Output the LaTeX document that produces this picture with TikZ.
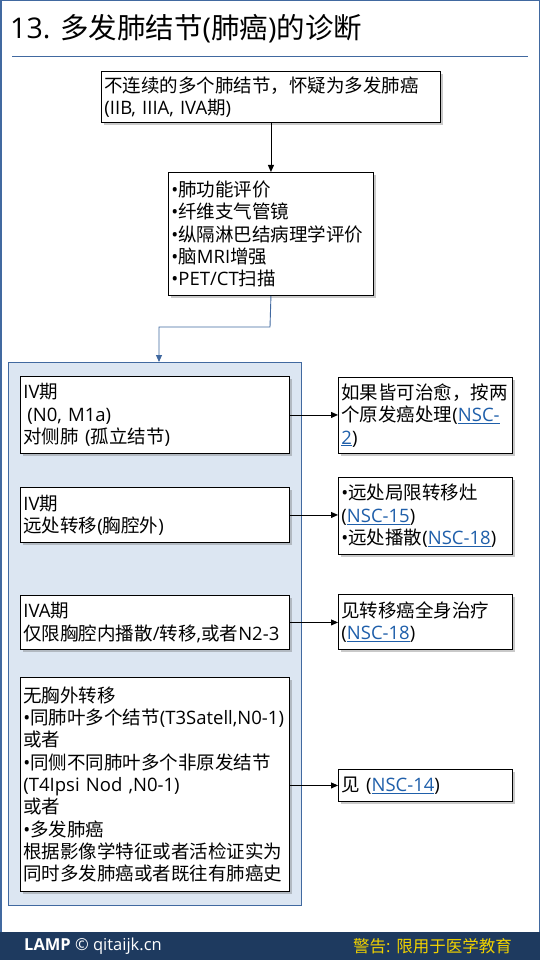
\documentclass[tikz,border=0pt]{standalone}
\usepackage{fontspec}
\setmainfont{Open Sans}
\newfontfamily\cjkf{Noto Sans CJK SC}
\newfontfamily\latf{Open Sans}
\makeatletter
\newXeTeXintercharclass\cjkcls
\count@="3000
\loop\ifnum\count@<"3040 \XeTeXcharclass\count@=\cjkcls \advance\count@ by 1 \repeat
\count@="4E00
\loop\ifnum\count@<"A000 \XeTeXcharclass\count@=\cjkcls \advance\count@ by 1 \repeat
\count@="FF00
\loop\ifnum\count@<"FFF0 \XeTeXcharclass\count@=\cjkcls \advance\count@ by 1 \repeat
\makeatother
\XeTeXinterchartokenstate=1
\XeTeXinterchartoks 0 \cjkcls = {\cjkf}
\XeTeXinterchartoks 4095 \cjkcls = {\cjkf}
\XeTeXinterchartoks \cjkcls 0 = {\latf}
\XeTeXinterchartoks \cjkcls 4095 = {\latf}
\exhyphenpenalty=10000\relax
\hyphenpenalty=10000\relax
\usetikzlibrary{arrows.meta,shadows}
\definecolor{steel}{RGB}{65,105,160}
\definecolor{panelfill}{RGB}{220,230,242}
\definecolor{barblue}{RGB}{30,58,95}
\definecolor{linkblue}{RGB}{31,95,170}
\definecolor{warnyellow}{RGB}{240,210,0}
\newcommand{\lnk}[1]{\textcolor{linkblue}{\underline{#1}}}
\begin{document}
\begin{tikzpicture}[x=1pt,y=-1pt,
  box/.style={draw=black,fill=white,line width=0.9pt,anchor=north west,align=left,
    inner xsep=3pt,inner ysep=0pt,font=\fontsize{18.5}{22.3}\selectfont,
    drop shadow={shadow xshift=2.5pt,shadow yshift=-2.5pt,opacity=0.35,fill=black!60}},
  arr/.style={-{Triangle[length=7pt,width=6pt]},line width=0.9pt,black},
  barr/.style={-{Triangle[length=7pt,width=6pt]},line width=0.9pt,steel}]
\useasboundingbox (0,0) rectangle (540,960);
\fill[white] (0,0) rectangle (540,960);
\draw[steel,line width=1.5pt] (0.75,0.75) rectangle (539.25,959.25);
% title
\node[anchor=west,inner sep=0pt,font=\fontsize{28.5}{33}\selectfont] (title) at (10,29) {13. 多发肺结节(肺癌)的诊断};
\draw[steel,line width=1pt] (12,57) -- (528,57);
% top boxes
\node[box,text width=333pt,minimum height=51pt] (b1) at (101,71) {不连续的多个肺结节，怀疑为多发肺癌\\(IIB, IIIA, IVA期)};
\node[box,text width=199pt,minimum height=123pt] (b2) at (168,172) {•肺功能评价\\•纤维支气管镜\\•纵隔淋巴结病理学评价\\•脑MRI增强\\•PET/CT扫描};
\draw[arr] (b1.south) -- (b2.north);
% panel
\node[draw=steel,fill=panelfill,line width=0.9pt,anchor=north west,minimum width=293pt,minimum height=543pt,inner sep=0pt] (panel) at (8,362) {};
\coordinate (turn1) at (270,327);
\coordinate (turn2) at (159,327);
\draw[barr] (b2.south) -- (turn1) -- (turn2) -- (panel.north -| turn2);
% left boxes
\node[box,text width=263pt,minimum height=77pt] (la) at (20,376) {IV期\\\hspace*{4pt}(N0, M1a)\\对侧肺 (孤立结节)};
\node[box,text width=263pt,minimum height=55pt] (lb) at (20,487) {IV期\\远处转移(胸腔外)};
\node[box,text width=263pt,minimum height=54pt] (lc) at (20,595) {IVA期\\仅限胸腔内播散/转移,或者N2-3};
\node[box,text width=263pt,minimum height=214pt] (ld) at (20,677) {无胸外转移\\•同肺叶多个结节(T3Satell,N0-1)\\或者\\•同侧不同肺叶多个非原发结节\\(T4Ipsi Nod ,N0-1)\\或者\\•多发肺癌\\根据影像学特征或者活检证实为\\同时多发肺癌或者既往有肺癌史};
% right boxes
\node[box,text width=168pt,minimum height=76pt] (ra) at (338,377) {如果皆可治愈，按两\\个原发癌处理(\lnk{NSC-}\\\lnk{2})};
\node[box,text width=168pt,minimum height=77pt] (rb) at (338,477) {•远处局限转移灶\\(\lnk{NSC-15})\\•远处播散(\lnk{NSC-18})};
\node[box,text width=168pt,minimum height=55pt] (rc) at (338,594) {见转移癌全身治疗\\(\lnk{NSC-18})};
\node[box,text width=168pt,minimum height=32pt] (rd) at (338,769) {见 (\lnk{NSC-14})};
\draw[arr] (la.east) -- (la.east -| ra.west);
\draw[arr] (lb.east) -- (lb.east -| rb.west);
\draw[arr] (lc.east) -- (lc.east -| rc.west);
\draw[arr] (ld.east |- rd.west) -- (rd.west);
% footer
\fill[barblue] (0,932) rectangle (540,960);
\node[anchor=west,inner sep=0pt,text=white,font=\fontsize{16.5}{18}\selectfont] (foot1) at (24,946) {\textbf{LAMP} © qitaijk.cn};
\node[anchor=east,inner sep=0pt,text=warnyellow,font=\fontsize{16.5}{18}\selectfont] (foot2) at (512,946) {警告: 限用于医学教育};
\end{tikzpicture}
\end{document}
